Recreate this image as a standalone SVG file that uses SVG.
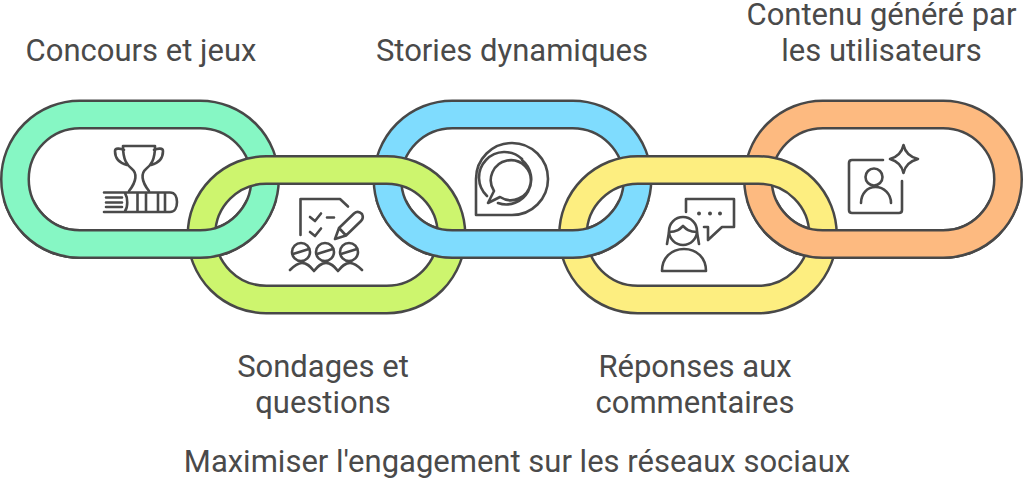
<svg xmlns="http://www.w3.org/2000/svg" xmlns:xlink="http://www.w3.org/1999/xlink" width="1024" height="478" viewBox="0 0 1024 478">
<style>
.edge{fill:none;stroke:#484848;stroke-width:30}
.band{fill:none;stroke-width:25}
.ic{fill:none;stroke:#4a4a4a;stroke-width:2.600;stroke-linecap:round;stroke-linejoin:round}
.t{font-family:Roboto,"Liberation Sans",sans-serif;font-size:31px;fill:#4a4a4a;text-anchor:middle}
</style>
<defs>
<rect id="r" x="0" y="0" width="250" height="129.5" rx="64.75" ry="64.75"/>
<clipPath id="low"><rect x="0" y="200" width="1024" height="70"/></clipPath>
</defs>
<rect width="1024" height="478" fill="#fff"/>
<g id="node-concours">
<use xlink:href="#r" href="#r" x="15" y="114.5" class="edge"/><use xlink:href="#r" href="#r" x="15" y="114.5" class="band" stroke="#86f7c4"/>
<path class="ic" d="M123 146H155M123 146C123 160 127 165 132 169C137 173 137 181 129 191M155 146C155 160 151 165 146 169C141 173 141 181 149 191M124 150C120 148 115 148 115 151C115 158 119 163 127 165M154 150C158 148 163 148 163 151C163 158 159 163 151 165"/>
<path class="ic" d="M104 192.500H170C175 192.500 177 197 177 202C177 207 175 212 170 212H104M106 197.500H122M106 202.500H122M106 207H122M125 193C128 198 128 207 125 211M137.500 193V211M146 193V211M158 193V211M165 193V211"/>
<text class="t" x="141" y="61">Concours et jeux</text>
</g>
<g id="node-stories">
<use xlink:href="#r" href="#r" x="387.500" y="114.5" class="edge"/><use xlink:href="#r" href="#r" x="387.500" y="114.5" class="band" stroke="#7fdcfe"/>
<path class="ic" d="M476 215V179A36 36 0 1 1 512 215ZM494 191A20 20 0 1 1 500 197L488 203ZM487 196A25 25 0 0 1 522 159M522 160A25 25 0 0 1 498 203"/>
<text class="t" x="512" y="61">Stories dynamiques</text>
</g>
<g id="node-contenu">
<use xlink:href="#r" href="#r" x="758" y="114.5" class="edge"/><use xlink:href="#r" href="#r" x="758" y="114.5" class="band" stroke="#fdba80"/>
<path class="ic" d="M883 160H852Q849 160 849 163V210Q849 213 852 213H899Q902 213 902 210V181"/>
<circle class="ic" cx="874" cy="177" r="8.500"/>
<path class="ic" d="M861 203C861 194 867 187 875.500 187C884 187 891 194 891 203M903.500 145C905 152 910 157 918 159C910 161 905 166 903.500 173C902 166 897 161 890 159C897 157 902 152 903.500 145Z"/>
<text class="t" x="881.500" y="25">Contenu généré par</text>
<text class="t" x="881.500" y="61">les utilisateurs</text>
</g>
<g id="node-sondages">
<use xlink:href="#r" href="#r" x="201.500" y="170" class="edge"/><use xlink:href="#r" href="#r" x="201.500" y="170" class="band" stroke="#cdf56e"/>
<path class="ic" d="M300.500 235V199H340L348 206.500M310 217L315 221L321 213.500M310 232L315 236L321 228.500M327 217.500H334M335 239L339 228L354 213.500C357 211 360 212 362 214C363 216 363 219 361 221L346 235.500ZM339 228L346 235.500"/>
<circle class="ic" cx="301" cy="252" r="9"/><circle class="ic" cx="325" cy="252" r="9"/><circle class="ic" cx="349" cy="252" r="9"/>
<path class="ic" d="M293 254L309 249M317 254L333 249M341 254L357 249M290 270C295 265 298 263 302 263C307 263 310 266 314 271C318 266 321 263 326 263C331 263 334 266 338 271C342 266 345 263 350 263C354 263 357 265 362 270"/>
<text class="t" x="323" y="377">Sondages et</text>
<text class="t" x="323" y="413">questions</text>
</g>
<g id="node-reponses">
<use xlink:href="#r" href="#r" x="573" y="170" class="edge"/><use xlink:href="#r" href="#r" x="573" y="170" class="band" stroke="#fdee80"/>
<path class="ic" d="M686 212V199H734V227H722L708 240V227H704"/>
<circle class="ic" cx="683" cy="231" r="14"/>
<path class="ic" d="M669 232C677 232 680 229 683 226C686 229 689 232 697 232M669 232L667 244M697 232L699 244M662 271C662 258 671 249 684 249C697 249 706 258 706 271Z"/>
<circle cx="699" cy="213.500" r="2" fill="#4a4a4a"/><circle cx="710" cy="213.500" r="2" fill="#4a4a4a"/><circle cx="720" cy="213.500" r="2" fill="#4a4a4a"/>
<text class="t" x="695" y="377">Réponses aux</text>
<text class="t" x="695" y="413">commentaires</text>
</g>
<g id="connectors" clip-path="url(#low)">
<use xlink:href="#r" href="#r" x="15" y="114.5" class="edge"/><use xlink:href="#r" href="#r" x="15" y="114.5" class="band" stroke="#86f7c4"/>
<use xlink:href="#r" href="#r" x="387.500" y="114.5" class="edge"/><use xlink:href="#r" href="#r" x="387.500" y="114.5" class="band" stroke="#7fdcfe"/>
<use xlink:href="#r" href="#r" x="758" y="114.5" class="edge"/><use xlink:href="#r" href="#r" x="758" y="114.5" class="band" stroke="#fdba80"/>
</g>
<text id="title" class="t" x="517" y="472">Maximiser l'engagement sur les réseaux sociaux</text>
</svg>
